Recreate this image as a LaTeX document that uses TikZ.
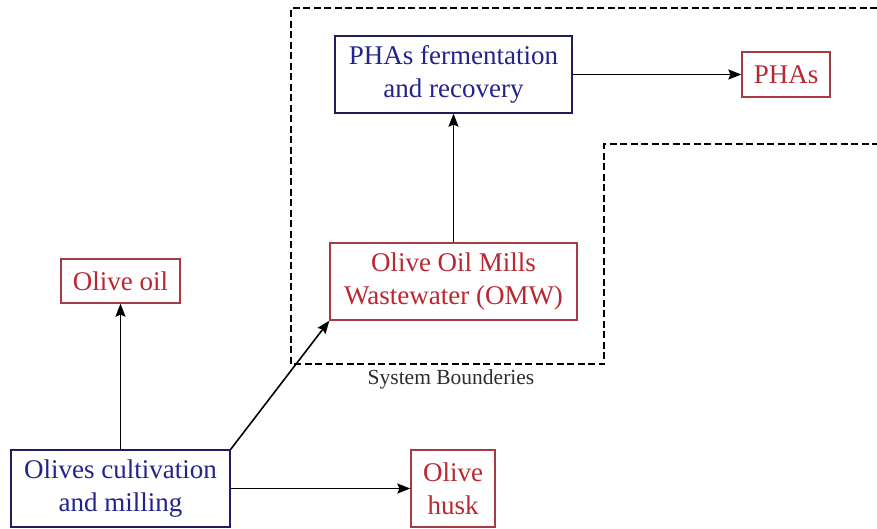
\documentclass[tikz,border=0pt]{standalone}
\usepackage{fontspec}
\setmainfont{Liberation Serif}
\usetikzlibrary{arrows.meta}
\definecolor{bluetxt}{RGB}{35,35,140}
\definecolor{blueline}{RGB}{30,30,95}
\definecolor{redtxt}{RGB}{185,40,50}
\definecolor{redline}{RGB}{165,60,65}
\definecolor{labgray}{RGB}{45,45,45}
\tikzset{
  box/.style={draw, line width=1.3pt, fill=white, inner sep=0pt, align=center,
    font=\fontsize{27}{33}\selectfont},
  bluebox/.style={box, draw=blueline, text=bluetxt},
  redbox/.style={box, draw=redline, text=redtxt},
  flow/.style={line width=1.6pt, -{Stealth[length=13pt,width=10pt,inset=2pt]}},
  boundary/.style={line width=1.1pt, dash pattern=on 7pt off 3.5pt}
}
\begin{document}
\begin{tikzpicture}[x=1pt,y=-1pt]
\useasboundingbox (0,0) rectangle (877,528);
\fill[white] (0,0) rectangle (877,528);
% system boundary
\draw[boundary] (877,8) -- (291,8) -- (291,364) -- (604,364) -- (604,144) -- (877,144);
\node[font=\fontsize{21.5}{26}\selectfont, text=labgray] (lab) at (451,379) {System Bounderies};
% nodes
\node[bluebox, minimum width=237pt, minimum height=77pt] (ferm) at (453.5,74.5) {PHAs fermentation\\and recovery};
\node[redbox, minimum width=88pt, minimum height=45pt] (phas) at (786,74.5) {PHAs};
\node[redbox, minimum width=247pt, minimum height=77pt] (omw) at (453.5,281.5) {Olive Oil Mills\\Wastewater (OMW)};
\node[redbox, minimum width=119pt, minimum height=44pt] (oil) at (120.5,281) {Olive oil};
\node[bluebox, minimum width=219pt, minimum height=77pt] (cult) at (120.5,488.5) {Olives cultivation\\and milling};
\node[redbox, minimum width=84pt, minimum height=77pt] (husk) at (453,488.5) {Olive\\husk};
% connectors
\draw[flow] (cult.north) -- (oil.south);
\draw[flow] (cult.north east) -- (omw.south west);
\draw[flow] (cult.east) -- (husk.west);
\draw[flow] (omw.north) -- (ferm.south);
\draw[flow] (ferm.east) -- (phas.west);
\end{tikzpicture}
\end{document}
